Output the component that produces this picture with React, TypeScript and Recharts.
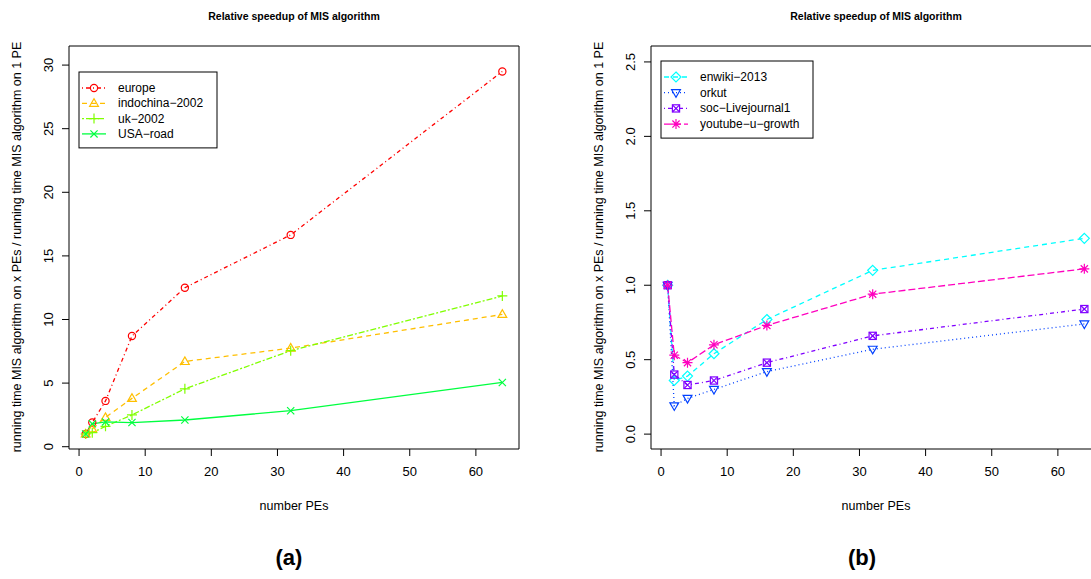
import React from "react";
import { LineChart, Line, XAxis, YAxis, ReferenceArea } from "recharts";

// number of PEs on the x axis (shared by both panels)
const peCounts = [1, 2, 4, 8, 16, 32, 64];

// panel (a)
const europe = [1, 1.9, 3.6, 8.7, 12.5, 16.65, 29.5];
const indochina2002 = [1, 1.4, 2.3, 3.8, 6.7, 7.75, 10.4];
const uk2002 = [1, 1.1, 1.6, 2.5, 4.55, 7.55, 11.85];
const usaRoad = [1, 1.8, 1.95, 1.9, 2.1, 2.83, 5.05];

// panel (b)
const enwiki2013 = [1, 0.36, 0.39, 0.54, 0.77, 1.1, 1.315];
const orkut = [1, 0.19, 0.24, 0.3, 0.42, 0.57, 0.74];
const socLivejournal1 = [1, 0.4, 0.33, 0.36, 0.48, 0.66, 0.84];
const youtubeUGrowth = [1, 0.53, 0.48, 0.6, 0.73, 0.94, 1.11];

const xTicks = [0, 10, 20, 30, 40, 50, 60];
const yTicksA = [0, 5, 10, 15, 20, 25, 30];
const yTicksB = [0, 0.5, 1, 1.5, 2, 2.5];

const FONT = '"Liberation Sans", Arial, Helvetica, sans-serif';
const X_DOMAIN: [number, number] = [-1.52, 66.52];

type Shape = "circle" | "triUp" | "plus" | "cross" | "diamond" | "triDown" | "boxX" | "star";

interface Series {
  key: string;
  name: string;
  values: number[];
  color: string;
  dash?: string;
  shape: Shape;
}

const seriesA: Series[] = [
  { key: "europe", name: "europe", values: europe, color: "#FF0000", dash: "1 3 4 3", shape: "circle" },
  { key: "indochina", name: "indochina\u22122002", values: indochina2002, color: "#FFBF00", dash: "5 4", shape: "triUp" },
  { key: "uk", name: "uk\u22122002", values: uk2002, color: "#80FF00", dash: "2 2 6 2", shape: "plus" },
  { key: "usa", name: "USA\u2212road", values: usaRoad, color: "#00FF40", shape: "cross" },
];

const seriesB: Series[] = [
  { key: "enwiki", name: "enwiki\u22122013", values: enwiki2013, color: "#00FFFF", dash: "5 4", shape: "diamond" },
  { key: "orkut", name: "orkut", values: orkut, color: "#0040FF", dash: "1 3", shape: "triDown" },
  { key: "soc", name: "soc\u2212Livejournal1", values: socLivejournal1, color: "#8000FF", dash: "1 3 4 3", shape: "boxX" },
  { key: "youtube", name: "youtube\u2212u\u2212growth", values: youtubeUGrowth, color: "#FF00BF", dash: "7 3", shape: "star" },
];

const buildRows = (series: Series[]) =>
  peCounts.map((pe, i) => {
    const row: Record<string, number> = { pe };
    series.forEach((s) => (row[s.key] = s.values[i]));
    return row;
  });

const Marker = ({ cx, cy, shape, color }: { cx: number; cy: number; shape: Shape; color: string }) => {
  const p = { fill: "none", stroke: color, strokeWidth: 1.2 };
  switch (shape) {
    case "circle":
      return <circle cx={cx} cy={cy} r={3.6} {...p} />;
    case "triUp":
      return <polygon points={`${cx - 4.4},${cy + 3} ${cx + 4.4},${cy + 3} ${cx},${cy - 4.6}`} {...p} />;
    case "triDown":
      return <polygon points={`${cx - 4.4},${cy - 3} ${cx + 4.4},${cy - 3} ${cx},${cy + 4.6}`} {...p} />;
    case "plus":
      return <path d={`M${cx - 5},${cy}H${cx + 5}M${cx},${cy - 5}V${cy + 5}`} {...p} />;
    case "cross":
      return <path d={`M${cx - 3.6},${cy - 3.6}L${cx + 3.6},${cy + 3.6}M${cx - 3.6},${cy + 3.6}L${cx + 3.6},${cy - 3.6}`} {...p} />;
    case "diamond":
      return <polygon points={`${cx},${cy - 5} ${cx + 5},${cy} ${cx},${cy + 5} ${cx - 5},${cy}`} {...p} />;
    case "boxX":
      return (
        <g>
          <rect x={cx - 3.6} y={cy - 3.6} width={7.2} height={7.2} {...p} />
          <path d={`M${cx - 3.6},${cy - 3.6}L${cx + 3.6},${cy + 3.6}M${cx - 3.6},${cy + 3.6}L${cx + 3.6},${cy - 3.6}`} {...p} />
        </g>
      );
    case "star":
      return (
        <path
          d={`M${cx - 5},${cy}H${cx + 5}M${cx},${cy - 5}V${cy + 5}M${cx - 3.6},${cy - 3.6}L${cx + 3.6},${cy + 3.6}M${cx - 3.6},${cy + 3.6}L${cx + 3.6},${cy - 3.6}`}
          {...p}
        />
      );
  }
  return null;
};

const makeDot = (s: Series) => (props: any) => {
  const { cx, cy, index } = props;
  if (cx == null || cy == null) return <g key={`${s.key}-${index}`} />;
  return (
    <g key={`${s.key}-${index}`}>
      <Marker cx={cx} cy={cy} shape={s.shape} color={s.color} />
    </g>
  );
};

const YTick = (fmt: (v: number) => string) => (props: any) => {
  const { x, y, payload } = props;
  const tx = x - 11;
  return (
    <text
      x={tx}
      y={y}
      transform={`rotate(-90, ${tx}, ${y})`}
      textAnchor="middle"
      dominantBaseline="central"
      fontSize={13}
      fontFamily={FONT}
      fill="#000"
    >
      {fmt(payload.value)}
    </text>
  );
};

interface PanelProps {
  series: Series[];
  yDomain: [number, number];
  yTicks: number[];
  yFmt: (v: number) => string;
  left: number;
  letter: string;
  letterX: number;
  legendTop: number;
  legendWidth: number;
  legendStep: number;
}

const W = 545;
const H = 579;

const Panel = ({ series, yDomain, yTicks, yFmt, left, letter, letterX, legendTop, legendWidth, legendStep }: PanelProps) => {
  const rows = buildRows(series);
  const legendHeight = 16 + legendStep * (series.length - 1) + 14;
  return (
    <div style={{ position: "absolute", left, top: 0, width: W, height: H }}>
      <LineChart width={W} height={H} data={rows} margin={{ top: 46, right: 26, bottom: 100, left: 29 }}>
        <XAxis
          dataKey="pe"
          type="number"
          domain={X_DOMAIN}
          ticks={xTicks}
          allowDataOverflow
          axisLine={false}
          tickSize={7}
          tickMargin={11}
          tickLine={{ stroke: "#000" }}
          tick={{ fontSize: 13, fill: "#000", fontFamily: FONT }}
          height={30}
        />
        <YAxis
          type="number"
          domain={yDomain}
          ticks={yTicks}
          allowDataOverflow
          axisLine={false}
          tickSize={7}
          tickLine={{ stroke: "#000" }}
          tick={YTick(yFmt)}
          width={40}
        />
        <ReferenceArea
          x1={X_DOMAIN[0]}
          x2={X_DOMAIN[1]}
          y1={yDomain[0]}
          y2={yDomain[1]}
          fill="none"
          stroke="#000"
          strokeWidth={1}
        />
        {series.map((s) => (
          <Line
            key={s.key}
            type="linear"
            dataKey={s.key}
            name={s.name}
            stroke={s.color}
            strokeWidth={1.3}
            strokeDasharray={s.dash}
            dot={makeDot(s)}
            activeDot={false}
            isAnimationActive={false}
          />
        ))}
      </LineChart>
      <svg
        width={W}
        height={H}
        style={{ position: "absolute", left: 0, top: 0, pointerEvents: "none" }}
        fontFamily={FONT}
      >
        <text x={294} y={20} textAnchor="middle" fontSize={10.5} fontWeight="bold">
          Relative speedup of MIS algorithm
        </text>
        <text x={294} y={510} textAnchor="middle" fontSize={12.5}>
          number PEs
        </text>
        <text x={letterX} y={565} textAnchor="middle" fontSize={22} fontWeight="bold">
          {letter}
        </text>
        <text
          transform="rotate(-90)"
          x={-247}
          y={17}
          textAnchor="middle"
          dominantBaseline="central"
          fontSize={12.5}
        >
          running time MIS algorithm on x PEs / running time MIS algorithm on 1 PE
        </text>
        <g transform={`translate(79, ${legendTop})`}>
          <rect x={0} y={0} width={legendWidth} height={legendHeight} fill="#fff" stroke="#000" strokeWidth={1} />
          {series.map((s, i) => {
            const cy = 16 + i * legendStep;
            return (
              <g key={s.key}>
                <line x1={3} x2={27} y1={cy} y2={cy} stroke={s.color} strokeWidth={1.3} strokeDasharray={s.dash} />
                <Marker cx={15} cy={cy} shape={s.shape} color={s.color} />
                <text x={39} y={cy} dominantBaseline="central" fontSize={12}>
                  {s.name}
                </text>
              </g>
            );
          })}
        </g>
      </svg>
    </div>
  );
};

export default function App() {
  return (
    <div
      style={{
        position: "absolute",
        left: 0,
        top: 0,
        width: 1091,
        height: 579,
        overflow: "hidden",
        background: "#fff",
      }}
    >
      <Panel
        series={seriesA}
        yDomain={[-0.18, 31.5]}
        yTicks={yTicksA}
        yFmt={(v) => String(v)}
        left={0}
        letter="(a)"
        letterX={289}
        legendTop={72}
        legendWidth={138}
        legendStep={15.3}
      />
      <Panel
        series={seriesB}
        yDomain={[-0.1, 2.607]}
        yTicks={yTicksB}
        yFmt={(v) => v.toFixed(1)}
        left={582}
        letter="(b)"
        letterX={280}
        legendTop={61}
        legendWidth={152}
        legendStep={15.7}
      />
    </div>
  );
}
